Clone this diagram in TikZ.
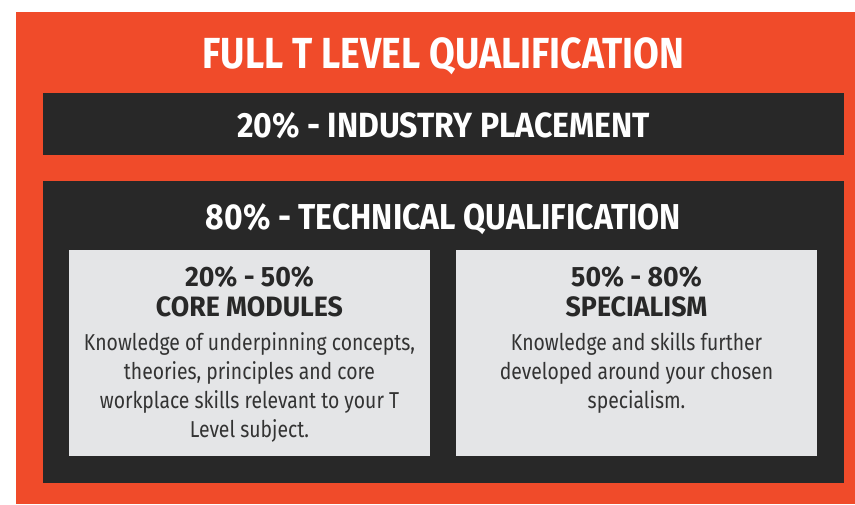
\documentclass[tikz,border=0pt]{standalone}
\usepackage{fontspec}
\setmainfont{Fira Sans}
\newfontfamily\titlefont[FakeStretch=0.86]{Fira Sans}
\newfontfamily\indfont[FakeStretch=0.914]{Fira Sans}
\newfontfamily\techfont[FakeStretch=0.887]{Fira Sans}
\newfontfamily\subfont[FakeStretch=0.955]{Fira Sans}
\newfontfamily\bdfont[FakeStretch=0.842]{Fira Sans}
\definecolor{tlorange}{HTML}{F04B2A}
\definecolor{tldark}{HTML}{282828}
\definecolor{tllight}{HTML}{E4E5E7}
\begin{document}
\begin{tikzpicture}[x=1pt,y=-1pt,
  panel/.style={fill=#1,draw=none},
  head/.style={anchor=base,inner sep=0pt,text=white},
  subhead/.style={anchor=base,inner sep=0pt,text=tldark,font=\subfont\bfseries\fontsize{28}{28}\selectfont},
  body/.style={anchor=base,inner sep=0pt,text=tldark!95,font=\bdfont\fontsize{23}{23}\selectfont}]
\useasboundingbox (0,0) rectangle (855,504);
\fill[white] (0,0) rectangle (855,504);
\path[panel=tlorange] (16,12) rectangle (855,504);
\path[panel=tldark] (43,93) rectangle (844,155);
\path[panel=tldark] (43,181) rectangle (844,483);
\path[panel=tllight] (69,250) rectangle (430,456);
\path[panel=tllight] (456,250) rectangle (817,456);
\node[head,font=\titlefont\bfseries\fontsize{43.5}{43.5}\selectfont] (title) at (443.5,68) {FULL T LEVEL QUALIFICATION};
\node[head,font=\indfont\bfseries\fontsize{35}{35}\selectfont] (ind) at (443.5,137) {20\% - INDUSTRY PLACEMENT};
\node[head,font=\techfont\bfseries\fontsize{36}{36}\selectfont] (tech) at (443.5,229) {80\% - TECHNICAL QUALIFICATION};
\node[subhead] (c1) at (249.5,286) {20\% - 50\%};
\node[subhead] (c2) at (249.5,316) {CORE MODULES};
\node[body] (cb1) at (249.5,350) {Knowledge of underpinning concepts,};
\node[body] (cb2) at (249.5,379) {theories, principles and core};
\node[body] (cb3) at (249.5,408) {workplace skills relevant to your T};
\node[body] (cb4) at (249.5,437) {Level subject.};
\node[subhead] (s1) at (636.5,286) {50\% - 80\%};
\node[subhead] (s2) at (636.5,316) {SPECIALISM};
\node[body] (sb1) at (636.5,350) {Knowledge and skills further};
\node[body] (sb2) at (636.5,379) {developed around your chosen};
\node[body] (sb3) at (636.5,408) {specialism.};
\end{tikzpicture}
\end{document}
